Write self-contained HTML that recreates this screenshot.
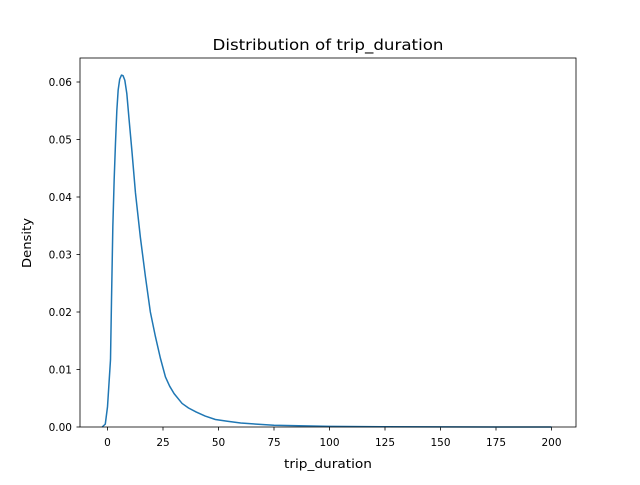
<!DOCTYPE html>
<html><head><meta charset="utf-8"><style>
body{margin:0;background:#fff;}
svg text{font-family:"DejaVu Sans","Liberation Sans",sans-serif;fill:#000;}
</style></head><body>
<svg id="chart" width="640" height="480" xmlns="http://www.w3.org/2000/svg">
<rect x="0" y="0" width="640" height="480" fill="#fff"/>
<text x="328" y="50" font-size="15.5" text-anchor="middle" textLength="231" lengthAdjust="spacingAndGlyphs">Distribution of trip_duration</text>
<g id="xticks"></g>
<g id="yticks"></g>
<path id="curve" fill="none" stroke="#1f77b4" stroke-width="1.5" stroke-linejoin="round"/>
<rect x="80" y="58" width="496" height="369" fill="none" stroke="#000" stroke-width="0.8"/>
<text x="328" y="468" font-size="12" text-anchor="middle" textLength="88" lengthAdjust="spacingAndGlyphs">trip_duration</text>
<text x="31" y="243" font-size="12" text-anchor="middle" textLength="50" lengthAdjust="spacingAndGlyphs" transform="rotate(-90 31 243)">Density</text>
</svg>
<script>
const xVals=[-2.4,-1,0,1.35,1.8,2.4,3.0,3.6,4.2,4.8,5.5,6.3,7,7.8,8.7,9.6,11,12.6,14.8,17.1,19.3,21.6,23.8,26.1,28,30,33.6,36.5,40,44,48.6,54,60,67,75,100,125,150,175,200];
const yVals=[0,0.0005,0.0035,0.0117,0.022,0.0348,0.043,0.0494,0.055,0.0586,0.0605,0.0612,0.0611,0.0603,0.058,0.054,0.048,0.0407,0.033,0.0261,0.020,0.0157,0.012,0.0087,0.0071,0.0058,0.0041,0.0033,0.0026,0.0019,0.0013,0.0010,0.0007,0.0005,0.0003,0.0001,0.00005,0.00003,0.00001,0];
const xTicks=[0,25,50,75,100,125,150,175,200];
const yTicks=[0,0.01,0.02,0.03,0.04,0.05,0.06];
const yTickLabels=["0.00","0.01","0.02","0.03","0.04","0.05","0.06"];
function sx(v){return 107.5+v*2.22;}
function sy(v){return 427-v*5750;}
const NS="http://www.w3.org/2000/svg";
const xg=document.getElementById('xticks'),yg=document.getElementById('yticks');
xTicks.forEach(t=>{
 const l=document.createElementNS(NS,'line');
 l.setAttribute('x1',sx(t));l.setAttribute('x2',sx(t));l.setAttribute('y1',427);l.setAttribute('y2',430.5);
 l.setAttribute('stroke','#000');l.setAttribute('stroke-width','0.8');
 
 
 xg.appendChild(l);
 const tx=document.createElementNS(NS,'text');
 tx.setAttribute('x',sx(t));tx.setAttribute('y',446);tx.setAttribute('font-size','10.5');tx.setAttribute('text-anchor','middle');
 tx.textContent=t;
 
 
 xg.appendChild(tx);
});
yTicks.forEach((t,i)=>{
 const l=document.createElementNS(NS,'line');
 l.setAttribute('x1',76.5);l.setAttribute('x2',80);l.setAttribute('y1',sy(t));l.setAttribute('y2',sy(t));
 l.setAttribute('stroke','#000');l.setAttribute('stroke-width','0.8');
 
 
 yg.appendChild(l);
 const tx=document.createElementNS(NS,'text');
 tx.setAttribute('x',72);tx.setAttribute('y',sy(t)+4);tx.setAttribute('font-size','10.5');tx.setAttribute('text-anchor','end');
 tx.textContent=yTickLabels[i];
 
 
 yg.appendChild(tx);
});
document.getElementById('curve').setAttribute('d',xVals.map((x,i)=>(i?'L':'M')+sx(x).toFixed(2)+','+sy(yVals[i]).toFixed(2)).join(' '));
</script>
</body></html>
